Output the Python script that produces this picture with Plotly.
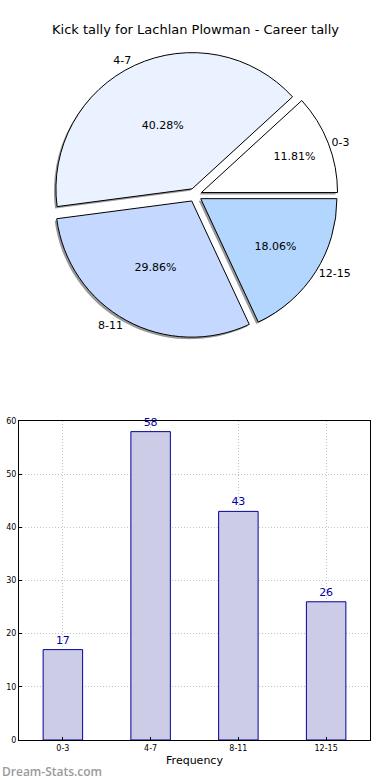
import plotly.graph_objects as go

categories = ["0-3", "4-7", "8-11", "12-15"]
counts = [17, 58, 43, 26]
pie_colors = ["#ffffff", "#eaf1ff", "#c5d8ff", "#b3d6ff"]
y_ticks = [0, 10, 20, 30, 40, 50, 60]

W, H = 390, 780

def px(x):  # page x -> paper fraction
    return x / W

def py(y):  # page y (from top) -> paper fraction
    return (H - y) / H

cx, cy, R = 195, 195, 143  # pie centre (page px) and outer extent

def dom(cxp, cyp, r):
    return dict(x=[px(cxp - r), px(cxp + r)], y=[py(cyp + r), py(cyp - r)])

ROT = 47.5
fig = go.Figure()

# shadow
fig.add_trace(go.Pie(
    labels=categories, values=counts, sort=False, direction="counterclockwise",
    rotation=ROT, pull=0.05, domain=dom(cx - 2, cy + 2, R),
    marker=dict(colors=["#999999"] * 4, line=dict(width=0)),
    textinfo="none", hoverinfo="skip", showlegend=False))

# main pie with percents inside
fig.add_trace(go.Pie(
    labels=categories, values=counts, sort=False, direction="counterclockwise",
    rotation=ROT, pull=0.05, domain=dom(cx, cy, R),
    marker=dict(colors=pie_colors, line=dict(color="black", width=1)),
    texttemplate="%{percent:.2%}", textposition="inside",
    insidetextorientation="horizontal",
    textfont=dict(family="DejaVu Sans", size=11, color="black"),
    showlegend=False))

# transparent overlay for outside labels
fig.add_trace(go.Pie(
    labels=categories, values=counts, sort=False, direction="counterclockwise",
    rotation=ROT, pull=0.05, domain=dom(cx, cy, R),
    marker=dict(colors=["rgba(0,0,0,0)"] * 4, line=dict(width=0)),
    textinfo="label", textposition="outside",
    textfont=dict(family="DejaVu Sans", size=11, color="black"),
    hoverinfo="skip", showlegend=False))

fig.add_trace(go.Bar(
    x=categories, y=counts, width=0.45,
    marker=dict(color="rgb(204,204,230)", line=dict(color="#000099", width=1)),
    text=[str(v) for v in counts], textposition="outside", cliponaxis=False,
    textfont=dict(family="DejaVu Sans", size=11, color="#0000aa"),
    xaxis="x", yaxis="y", showlegend=False))

grid = dict(showgrid=True, gridcolor="#c4c4c4", griddash="1px,2px", gridwidth=1)

fig.update_layout(
    width=W, height=H, margin=dict(l=0, r=0, t=0, b=0, autoexpand=False),
    paper_bgcolor="white", plot_bgcolor="white",
    font=dict(family="DejaVu Sans", color="black"),
    xaxis=dict(domain=[px(19), px(370)], range=[-0.5, 3.5], type="category",
               showline=True, linecolor="black", mirror=True, automargin=False,
               ticks="inside", ticklen=3, tickcolor="black",
               tickfont=dict(size=8), anchor="y",
               title=dict(text="Frequency", font=dict(size=11), standoff=4), **grid),
    yaxis=dict(domain=[py(740), py(421)], range=[0, 60], tickvals=y_ticks,
               showline=True, linecolor="black", mirror=True, automargin=False,
               ticks="inside", ticklen=3, tickcolor="black",
               tickfont=dict(size=8), zeroline=False, anchor="x", **grid),
    annotations=[
        dict(text="Kick tally for Lachlan Plowman - Career tally", x=px(195), y=py(30),
             xref="paper", yref="paper", showarrow=False, xanchor="center", yanchor="middle",
             font=dict(size=13, color="black")),
        dict(text="Dream-Stats.com", x=px(0), y=py(771), xref="paper", yref="paper",
             showarrow=False, xanchor="left", yanchor="middle",
             font=dict(family="Open Sans", size=12, weight=600, color="#9a9a9a")),
    ],
)

fig.write_html("out.html", config={"displayModeBar": False},
               post_script="document.body.style.margin='0';document.body.style.overflow='hidden';")
